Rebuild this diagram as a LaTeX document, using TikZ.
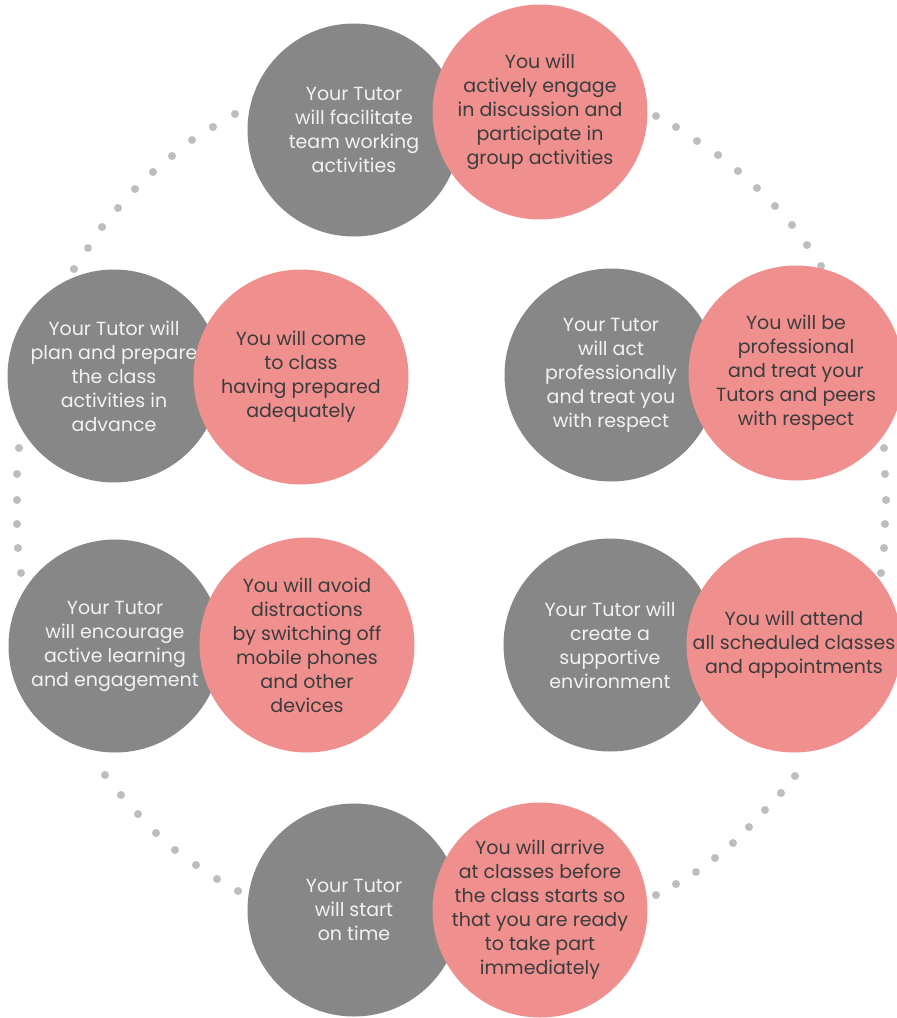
\documentclass[tikz,border=0pt]{standalone}
\usepackage{fontspec}
\setmainfont{Poppins}
\usetikzlibrary{positioning}
\definecolor{tutorgray}{HTML}{878787}
\definecolor{youpink}{HTML}{EF8F8E}
\definecolor{dotgray}{HTML}{BDBDBD}
\definecolor{youtext}{HTML}{3C3C3C}

\begin{document}
\begin{tikzpicture}[x=1pt,y=-1pt,
	tutor/.style={circle,fill=tutorgray,inner sep=0pt,minimum size=213pt},
	you/.style={circle,fill=youpink,inner sep=0pt,minimum size=215pt},
	tutortext/.style={align=center,text=white!95!black,font=\fontsize{19}{24}\selectfont},
	youtext/.style={align=center,text=youtext,font=\fontsize{19}{24}\selectfont},
	dot/.style={fill=dotgray}]
\useasboundingbox (0,0) rectangle (897,1018);

% dotted ring
\foreach \x/\y in {235/114,213/127,192/140,172/156,153/172,135/189,118/208,102/227,88/248,74/269,
	656/116,676/127,697/141,718/155,738/171,757/188,775/206,792/225,807/245,821/266,
	19/448,17/474,17/500,17/524,18/548,21/573,
	884/448,885/474,886/500,885/524,884/548,881/573,
	105/775,121/795,138/814,156/833,175/850,196/865,217/879,238/891,
	795/776,781/793,765/810,749/827,733/843,715/858,696/872,676/884,656/895}
	\fill[dot] (\x,\y) circle (4pt);

% tutor / you pairs
\foreach \gx/\gy/\px/\py/\tutor/\you [count=\i] in {
	354/130/540/112/{Your Tutor\\will facilitate\\team working\\activities}/{You will\\actively engage\\in discussion and\\participate in\\group activities},
	114/376/301/377/{Your Tutor will\\plan and prepare\\the class\\activities in\\advance}/{You will come\\to class\\having prepared\\adequately},
	611/375/796/373/{Your Tutor\\will act\\professionally\\and treat you\\with respect}/{You will be\\professional\\and treat your\\Tutors and peers\\with respect},
	115/646/307/645/{Your Tutor\\will encourage\\active learning\\and engagement}/{You will avoid\\distractions\\by switching off\\mobile phones\\and other\\devices},
	610/645/794/645/{Your Tutor will\\create a\\supportive\\environment}/{You will attend\\all scheduled classes\\and appointments},
	354/910/540/910/{Your Tutor\\will start\\on time}/{You will arrive\\at classes before\\the class starts so\\that you are ready\\to take part\\immediately}}
{
	\node[tutor] at (\gx,\gy) (t\i) {};
	\node[tutortext] at (t\i) (tt\i) {\tutor};
	\node[you] at (\px,\py) (y\i) {};
	\node[youtext] at (y\i) (yt\i) {\you};
}
\end{tikzpicture}
\end{document}
